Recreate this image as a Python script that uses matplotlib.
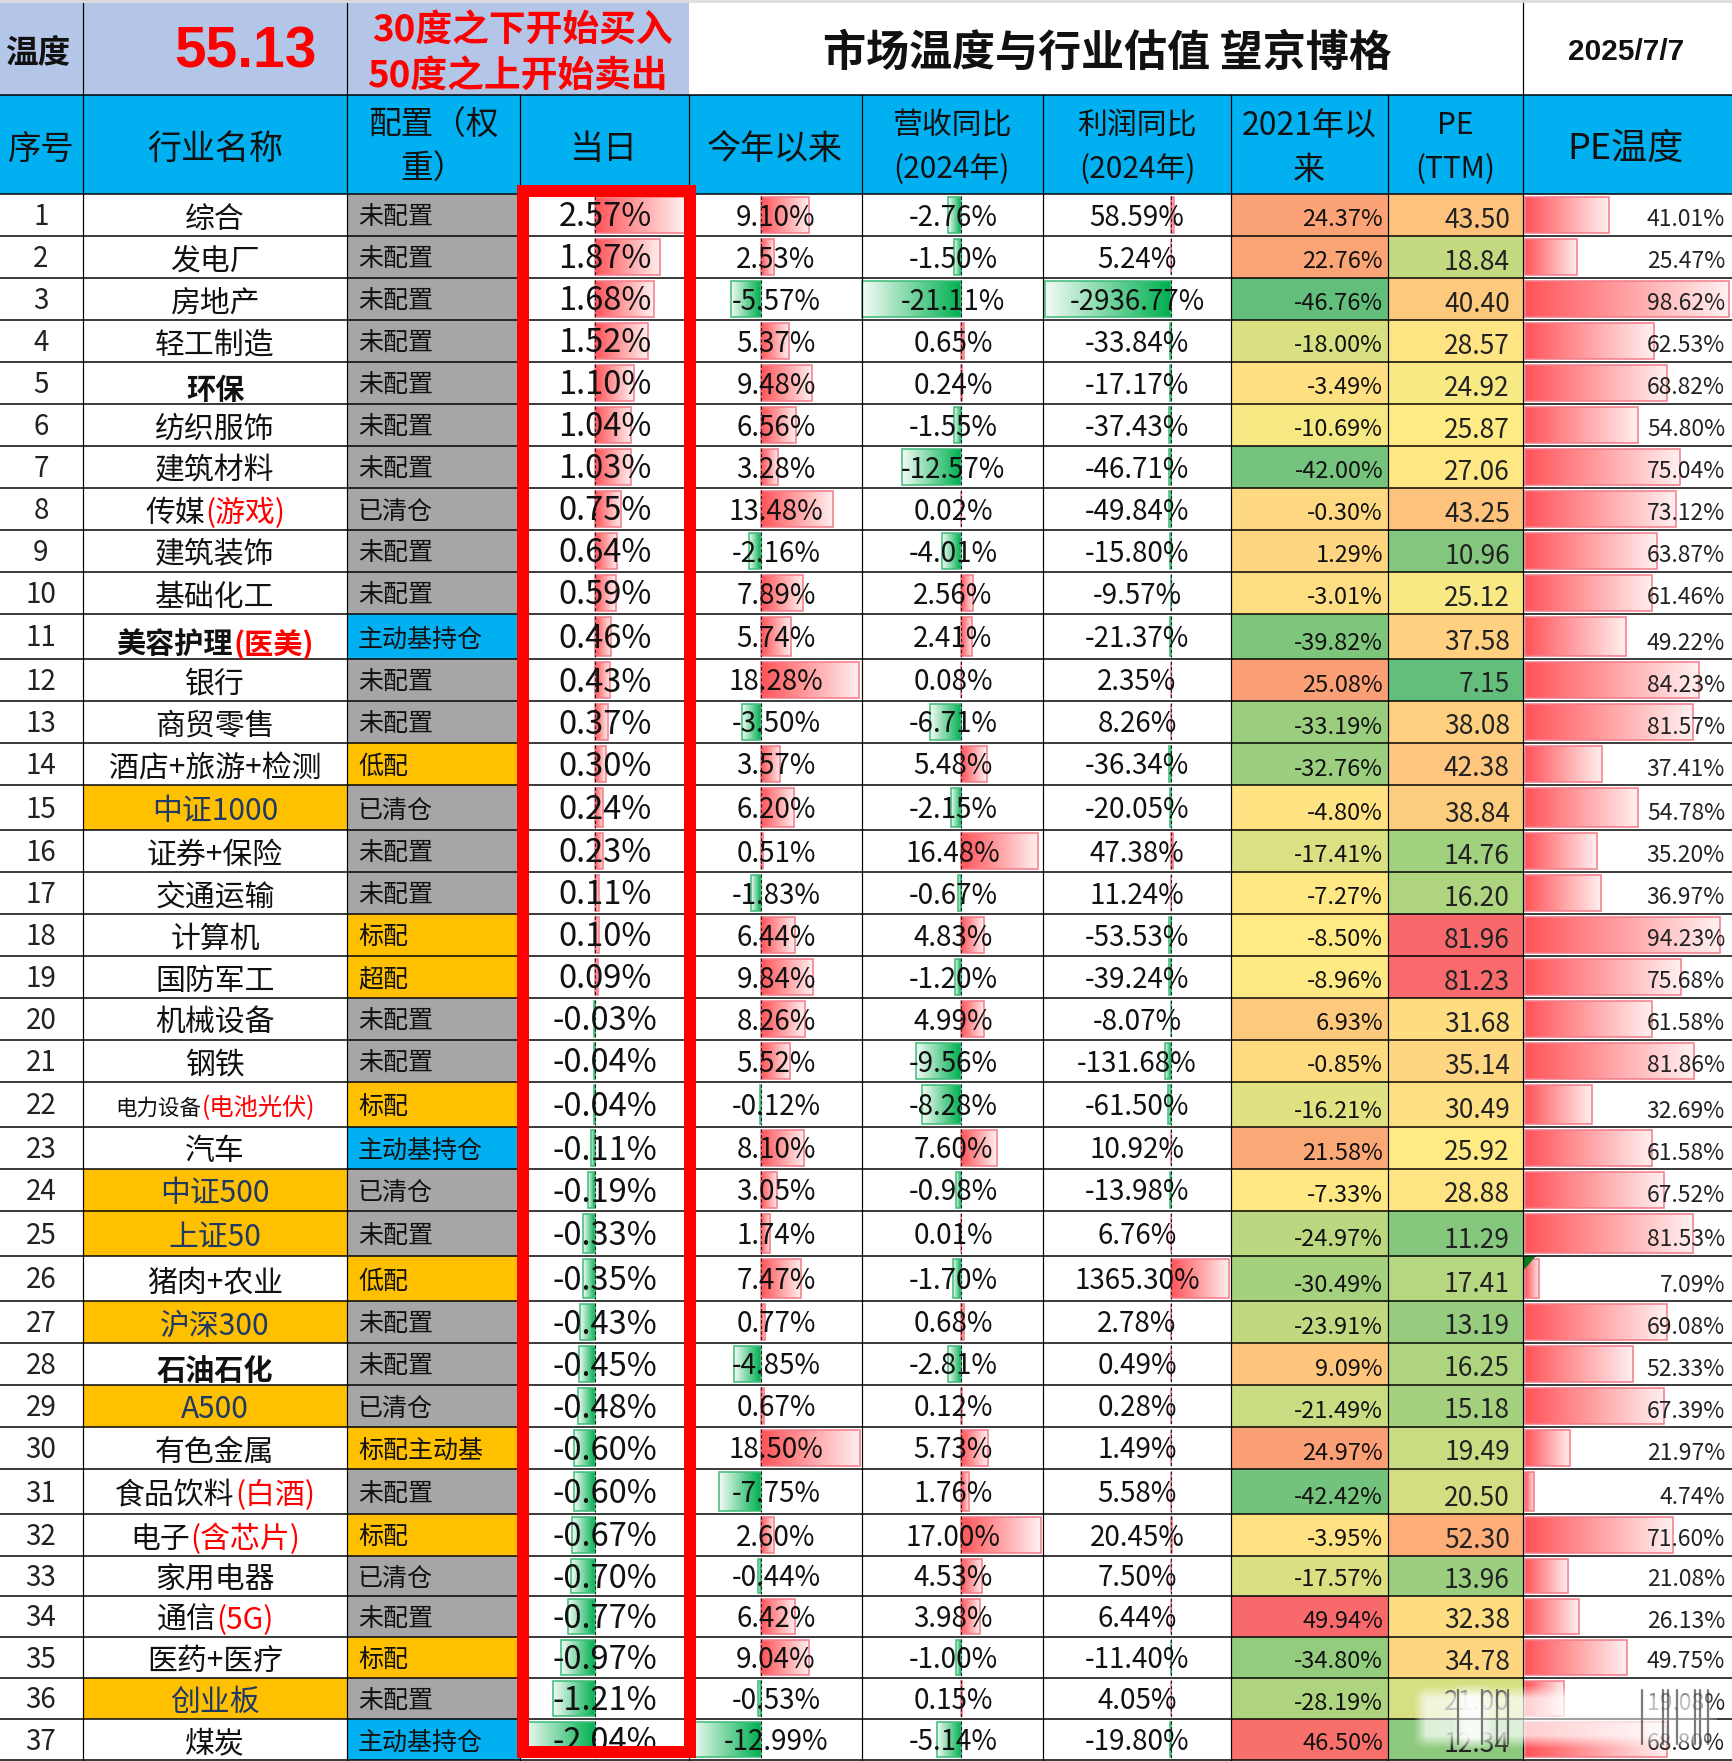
import numpy as np
import matplotlib
matplotlib.use('Agg')
import matplotlib.pyplot as plt
from matplotlib.colors import LinearSegmentedColormap, TwoSlopeNorm
from matplotlib.patches import Rectangle, Polygon

plt.rcParams['font.family'] = ['Noto Sans CJK SC', 'DejaVu Sans']

# ---------------------- 数据 ----------------------
temperature = '55.13'
title = '市场温度与行业估值 望京博格'
date_str = '2025/7/7'
buy_note = '30度之下开始买入'
sell_note = '50度之上开始卖出'

# 行业名称: (黑色部分, 红色部分)
names = [
    ('综合', ''), ('发电厂', ''), ('房地产', ''), ('轻工制造', ''), ('环保', ''), ('纺织服饰', ''),
    ('建筑材料', ''), ('传媒', '(游戏)'), ('建筑装饰', ''), ('基础化工', ''), ('美容护理', '(医美)'),
    ('银行', ''), ('商贸零售', ''), ('酒店+旅游+检测', ''), ('中证1000', ''), ('证券+保险', ''),
    ('交通运输', ''), ('计算机', ''), ('国防军工', ''), ('机械设备', ''), ('钢铁', ''),
    ('电力设备', '(电池光伏)'), ('汽车', ''), ('中证500', ''), ('上证50', ''), ('猪肉+农业', ''),
    ('沪深300', ''), ('石油石化', ''), ('A500', ''), ('有色金属', ''), ('食品饮料', '(白酒)'),
    ('电子', '(含芯片)'), ('家用电器', ''), ('通信', '(5G)'), ('医药+医疗', ''), ('创业板', ''), ('煤炭', ''),
]
index_rows = [15, 24, 25, 27, 29, 36]   # 指数行, 橙底
bold_rows = [5, 11, 28]
weights = [
    '未配置', '未配置', '未配置', '未配置', '未配置', '未配置', '未配置', '已清仓', '未配置', '未配置',
    '主动基持仓', '未配置', '未配置', '低配', '已清仓', '未配置', '未配置', '标配', '超配', '未配置',
    '未配置', '标配', '主动基持仓', '已清仓', '未配置', '低配', '未配置', '未配置', '已清仓', '标配主动基',
    '未配置', '标配', '已清仓', '未配置', '标配', '未配置', '主动基持仓',
]
today = [2.57, 1.87, 1.68, 1.52, 1.10, 1.04, 1.03, 0.75, 0.64, 0.59, 0.46, 0.43, 0.37, 0.30, 0.24, 0.23,
         0.11, 0.10, 0.09, -0.03, -0.04, -0.04, -0.11, -0.19, -0.33, -0.35, -0.43, -0.45, -0.48, -0.60,
         -0.60, -0.67, -0.70, -0.77, -0.97, -1.21, -2.04]
ytd = [9.10, 2.53, -5.57, 5.37, 9.48, 6.56, 3.28, 13.48, -2.16, 7.89, 5.74, 18.28, -3.50, 3.57, 6.20, 0.51,
       -1.83, 6.44, 9.84, 8.26, 5.52, -0.12, 8.10, 3.05, 1.74, 7.47, 0.77, -4.85, 0.67, 18.50,
       -7.75, 2.60, -0.44, 6.42, 9.04, -0.53, -12.99]
revenue = [-2.76, -1.50, -21.11, 0.65, 0.24, -1.55, -12.57, 0.02, -4.01, 2.56, 2.41, 0.08, -6.71, 5.48, -2.15,
           16.48, -0.67, 4.83, -1.20, 4.99, -9.56, -8.28, 7.60, -0.98, 0.01, -1.70, 0.68, -2.81, 0.12, 5.73,
           1.76, 17.00, 4.53, 3.98, -1.00, 0.15, -5.14]
profit = [58.59, 5.24, -2936.77, -33.84, -17.17, -37.43, -46.71, -49.84, -15.80, -9.57, -21.37, 2.35, 8.26,
          -36.34, -20.05, 47.38, 11.24, -53.53, -39.24, -8.07, -131.68, -61.50, 10.92, -13.98, 6.76, 1365.30,
          2.78, 0.49, 0.28, 1.49, 5.58, 20.45, 7.50, 6.44, -11.40, 4.05, -19.80]
since_2021 = [24.37, 22.76, -46.76, -18.00, -3.49, -10.69, -42.00, -0.30, 1.29, -3.01, -39.82, 25.08, -33.19,
              -32.76, -4.80, -17.41, -7.27, -8.50, -8.96, 6.93, -0.85, -16.21, 21.58, -7.33, -24.97, -30.49,
              -23.91, 9.09, -21.49, 24.97, -42.42, -3.95, -17.57, 49.94, -34.80, -28.19, 46.50]
pe_ttm = [43.50, 18.84, 40.40, 28.57, 24.92, 25.87, 27.06, 43.25, 10.96, 25.12, 37.58, 7.15, 38.08, 42.38,
          38.84, 14.76, 16.20, 81.96, 81.23, 31.68, 35.14, 30.49, 25.92, 28.88, 11.29, 17.41, 13.19, 16.25,
          15.18, 19.49, 20.50, 52.30, 13.96, 32.38, 34.78, 21.00, 12.34]
pe_temp = [41.01, 25.47, 98.62, 62.53, 68.82, 54.80, 75.04, 73.12, 63.87, 61.46, 49.22, 84.23, 81.57, 37.41,
           54.78, 35.20, 36.97, 94.23, 75.68, 61.58, 81.86, 32.69, 61.58, 67.52, 81.53, 7.09, 69.08, 52.33,
           67.39, 21.97, 4.74, 71.60, 21.08, 26.13, 49.75, 19.08, 68.80]

# ---------------------- 版式(像素) ----------------------
W, H = 1732, 1761
col_x = [0, 83, 347, 520, 689, 862, 1043, 1231, 1388, 1523, 1732]
row_y = [194, 236, 278, 320, 362, 404, 446, 488, 530, 572, 614, 659, 701, 743, 785, 830, 872, 914, 956, 998,
         1040, 1082, 1127, 1169, 1211, 1256, 1301, 1343, 1385, 1427, 1469, 1514, 1556, 1596, 1637, 1678, 1719, 1760]
px = 72 / 100  # 像素转磅
DY = 3         # CJK字体 va=center 偏上, 往下挪一点

fig = plt.figure(figsize=(W / 100, H / 100), dpi=100)
ax = fig.add_axes([0, 0, 1, 1])
ax.set_xlim(0, W)
ax.set_ylim(H, 0)
ax.axis('off')

BLUE = '#00B0F0'
ORANGE = '#FFC000'
GRAY = '#A6A6A6'
PERIWINKLE = '#B4C6E7'
INK = '#111111'
red_grad = LinearSegmentedColormap.from_list('rg', ['#FF5459', '#FFF0F0'])
green_grad = LinearSegmentedColormap.from_list('gg', ['#00B050', '#F2FBF5'])
scale_cmap = LinearSegmentedColormap.from_list('cs', ['#63BE7B', '#FFEB84', '#F8696B'])
grad = np.linspace(0, 1, 64).reshape(1, -1)


def cell(x0, x1, y0, y1, color, z=1):
    ax.add_patch(Rectangle((x0, y0), x1 - x0, y1 - y0, facecolor=color, edgecolor='none', zorder=z))


def data_bar(zero, value, scale, y0, y1):
    x_end = zero + value * scale
    cmap = red_grad if value >= 0 else green_grad
    edge = '#F27C8A' if value >= 0 else '#3DBB78'
    top, bot = y0 + 3, y1 - 3
    ax.imshow(grad, cmap=cmap, extent=(zero, x_end, bot, top), aspect='auto', zorder=2, vmin=0, vmax=1,
              interpolation='bilinear')
    ax.add_patch(Rectangle((min(zero, x_end), top), abs(x_end - zero), bot - top, fill=False,
                           edgecolor=edge, linewidth=1.1, zorder=2.1))


def name_label(x, y, black, red, size, color, weight, red_size=None):
    # 两段不同颜色的文字, 整体居中
    renderer = fig.canvas.get_renderer()
    t1 = ax.text(0, y, black, fontsize=size, color=color, weight=weight, ha='left', va='center', zorder=5)
    w1 = t1.get_window_extent(renderer).width
    w2 = 0
    t2 = None
    if red:
        t2 = ax.text(0, y, red, fontsize=red_size or size, color='#FF0000', weight=weight, ha='left',
                     va='center', zorder=5)
        w2 = t2.get_window_extent(renderer).width
    left = x - (w1 + w2) / 2
    t1.set_x(left)
    if t2 is not None:
        t2.set_x(left + w1)


# ---------------------- 顶部 ----------------------
cell(0, 689, 0, 95, PERIWINKLE)
ax.text(38, 50 + DY, '温度', fontsize=23.5, color=INK, ha='center', va='center', weight='bold', zorder=5)
ax.text(245, 52, temperature, fontsize=41, color='#FF0000', ha='center', va='center', weight='bold',
        family='Liberation Sans', zorder=5)
ax.text(522, 27 + DY, buy_note, fontsize=26.5, color='#FF0000', ha='center', va='center', weight='bold', zorder=5)
ax.text(517, 73 + DY, sell_note, fontsize=26.5, color='#FF0000', ha='center', va='center', weight='bold', zorder=5)
ax.text(1107, 50 + DY, title, fontsize=31, color=INK, ha='center', va='center', weight='bold', zorder=5)
ax.text(1626, 52, date_str, fontsize=21.5, color=INK, ha='center', va='center', family='Liberation Sans',
        weight='bold', zorder=5)
ax.plot([0, W], [0.5, 0.5], color='#DDDDDD', lw=2, zorder=4)

# ---------------------- 表头 ----------------------
cell(0, W, 95, 194, BLUE)
head_single = [(41, '序号', 24), (215, '行业名称', 24.5), (603, '当日', 24.5), (775, '今年以来', 24.5),
               (1626, 'PE温度', 26)]
for x, label, size in head_single:
    ax.text(x, 146 + DY, label, fontsize=size, color=INK, ha='center', va='center', zorder=5)
head_double = [(433, '配置（权', '重）', 23.5), (952, '营收同比', '(2024年)', 21.5), (1137, '利润同比', '(2024年)', 21.5),
               (1309, '2021年以', '来', 23), (1455, 'PE', '(TTM)', 21.5)]
for x, line1, line2, size in head_double:
    ax.text(x, 123 + DY, line1, fontsize=size, color=INK, ha='center', va='center', zorder=5)
    ax.text(x, 167 + DY, line2, fontsize=size, color=INK, ha='center', va='center', zorder=5)

# ---------------------- 表体 ----------------------
norm_2021 = TwoSlopeNorm(vmin=min(since_2021), vcenter=np.median(since_2021), vmax=max(since_2021))
norm_pe = TwoSlopeNorm(vmin=min(pe_ttm), vcenter=np.median(pe_ttm), vmax=max(pe_ttm))
bar_cols = [(today, 595, 35.0, 605), (ytd, 760.5, 5.38, 776), (revenue, 961, 4.69, 953), (profit, 1171, 0.0428, 1137)]
weight_bg = {'未配置': GRAY, '已清仓': GRAY, '主动基持仓': BLUE}

for i in range(37):
    y0, y1 = row_y[i], row_y[i + 1]
    yc = (y0 + y1) / 2
    no = i + 1
    # 序号
    ax.text(41, yc + 2, str(no), fontsize=20, color='#222222', ha='center', va='center', zorder=5)
    # 行业名称
    black, red = names[i]
    is_index = no in index_rows
    if is_index:
        cell(83, 347, y0, y1, ORANGE)
    is_bold = no in bold_rows
    yn = y1 - 17 + DY if is_bold else yc + 1 + DY
    if no == 22:
        name_label(215, yn, black, red, 15.5, INK, 'normal', red_size=17.5)
    elif is_bold:
        name_label(215, yn, black, red, 21, INK, 'bold')
    else:
        name_label(215, yn, black, red, 21.5, '#1F3864' if is_index else INK, 'normal')
    # 配置
    cell(347, 520, y0, y1, weight_bg.get(weights[i], ORANGE))
    ax.text(358, yc + DY, weights[i], fontsize=18, color=INK, ha='left', va='center', zorder=5)
    # 数据条列
    for k, (vals, zero, scale, xc) in enumerate(bar_cols):
        data_bar(zero, vals[i], scale, y0, y1)
        ax.plot([zero, zero], [y0 + 2, y1 - 2], color='#222222', lw=0.8, ls=(0, (3, 2)), zorder=2.5)
        ax.text(xc, yc + 2.5, f'{vals[i]:.2f}%', fontsize=23.5 if k == 0 else 20, color=INK, ha='center',
                va='center', zorder=5)
    # 色阶列
    cell(col_x[7], col_x[8], y0, y1, scale_cmap(norm_2021(since_2021[i])))
    ax.text(1383, y1 - 16, f'{since_2021[i]:.2f}%', fontsize=17, color=INK, ha='right', va='center', zorder=5)
    cell(col_x[8], col_x[9], y0, y1, scale_cmap(norm_pe(pe_ttm[i])))
    ax.text(1510, y1 - 16, f'{pe_ttm[i]:.2f}', fontsize=19, color='#222222', ha='right', va='center', zorder=5)
    # PE温度
    data_bar(1524.5, pe_temp[i], 2.07, y0, y1)
    ax.text(1725, y1 - 16, f'{pe_temp[i]:.2f}%', fontsize=16.5, color='#222222', ha='right', va='center', zorder=5)

ax.set_xlim(0, W)
ax.set_ylim(H, 0)

# 批注小三角(第26行)
ax.add_patch(Polygon([(1523, row_y[25]), (1536, row_y[25]), (1523, row_y[25] + 15)], closed=True,
                     facecolor='#0B7A1E', edgecolor='none', zorder=3))

# ---------------------- 网格线 ----------------------
for y in row_y + [95]:
    ax.plot([0, W], [y, y], color='black', lw=1.5 * px, zorder=3)
for x in col_x[1:-1]:
    y_top = 0 if x in (83, 347, 1523) else 95
    ax.plot([x, x], [y_top, H - 1], color='black', lw=1.2 * px, zorder=3)

# 红框
ax.add_patch(Rectangle((523, 191), 167, 1561, fill=False, edgecolor='#FF0000', linewidth=12 * px,
                       joinstyle='miter', zorder=6))

# 水印: 一层模糊白雾, 上面几条被拉长的灰色竖笔画
veil = np.zeros((80, 330))
veil[14:64, 18:305] = 0.72
veil[12:66, 56:84] = 0.95
kernel = np.ones(13) / 13
veil = np.apply_along_axis(lambda r: np.convolve(r, kernel, mode='same'), 1, veil)
veil = np.apply_along_axis(lambda r: np.convolve(r, kernel, mode='same'), 0, veil)
rgba = np.ones((80, 330, 4))
rgba[..., 3] = veil
ax.imshow(rgba, extent=(1402, 1732, 1758, 1678), aspect='auto', zorder=7, interpolation='bilinear')
ax.set_xlim(0, W)
ax.set_ylim(H, 0)
stroke_x = [1458, 1482, 1497, 1508, 1642, 1663, 1668, 1677, 1695, 1700, 1708]
for sx in stroke_x:
    ax.plot([sx, sx], [1690, 1744], color='#333333', lw=1.6, alpha=0.65, solid_capstyle='round', zorder=7.5)
ax.plot([1423, 1716], [1719, 1719], color='#888888', lw=1.5, alpha=0.6, zorder=7.5)

fig.savefig('out.png', dpi=100)
